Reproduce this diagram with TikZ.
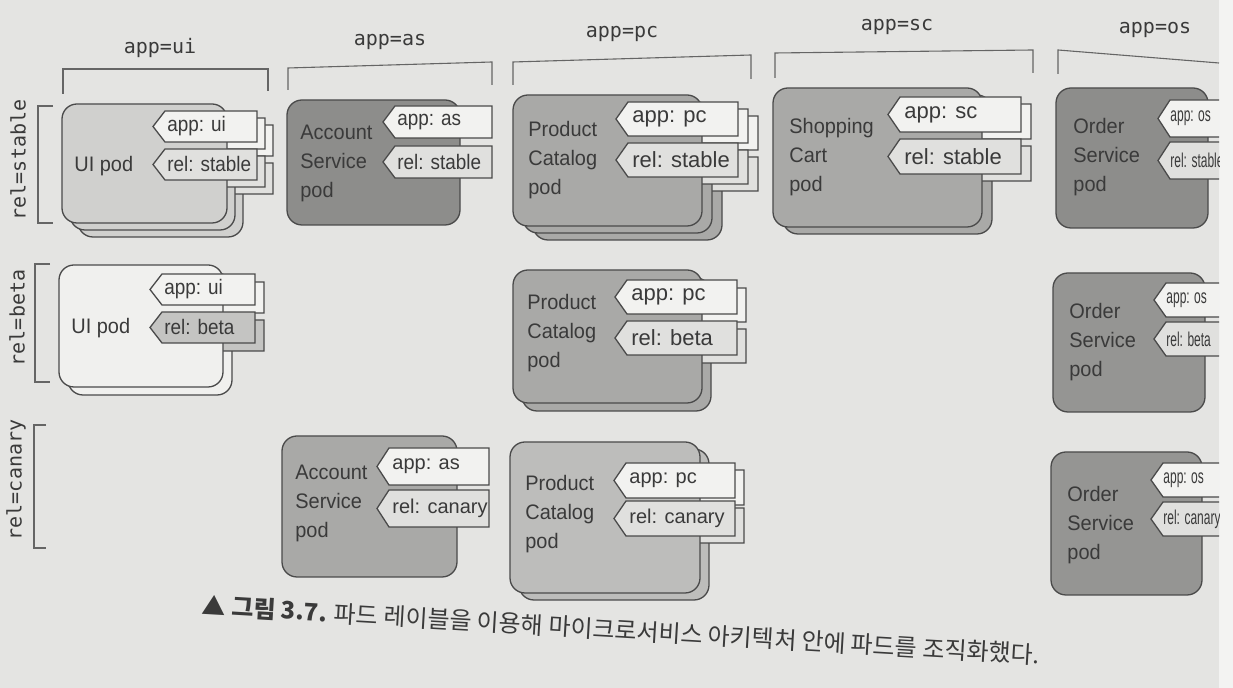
\documentclass[tikz,border=0pt]{standalone}
\usepackage{fontspec}
\setmainfont{Liberation Sans}
\newfontfamily\monof{DejaVu Sans Mono}
\newfontfamily\narrowf[FakeStretch=0.6]{Liberation Sans}
\newfontfamily\podf[FakeStretch=0.95]{Liberation Sans}
\newfontfamily\tagf[FakeStretch=0.9]{Liberation Sans}
\newfontfamily\krf{Noto Sans CJK KR}
\definecolor{paper}{HTML}{E4E4E2}
\definecolor{edgepaper}{HTML}{F3F3F2}
\definecolor{ln}{HTML}{4A4A4A}
\definecolor{txt}{HTML}{3A3A3A}
\definecolor{pwhite}{HTML}{F0F0EE}
\definecolor{plight}{HTML}{D0D0CE}
\definecolor{pmid}{HTML}{A9A9A7}
\definecolor{ppale}{HTML}{BDBDBB}
\definecolor{pdark}{HTML}{8D8D8B}
\definecolor{posg}{HTML}{959593}
\definecolor{tagw}{HTML}{F2F2F0}
\definecolor{tagl}{HTML}{E0E0DE}
\definecolor{tagg}{HTML}{C4C4C2}
\newcommand\ptag[5]{\draw[podline,fill=#5] ({#1},{(#2+#4)/2}) -- ({#1+12},{#2}) -- ({#3},{#2}) -- ({#3},{#4}) -- ({#1+12},{#4}) -- cycle;}
\def\tagh{34}
\def\tagg{7}
\def\relfill{tagl}
% #1 offsets, #2 x1, #3 y1, #4 x2, #5 y2, #6 fill, #7 tag x0, #8 tag x1, #9 tag top
\newcommand\pod[9]{%
  \foreach \dx/\dy in {#1}{%
    \begin{scope}[shift={(\dx,\dy)}]
      \draw[podline,fill=#6,rounded corners=7.5pt] (#2,#3) rectangle (#4,#5);
      \ptag{#7}{#9}{#8}{#9+\tagh}{tagw}
      \ptag{#7}{#9+\tagh+\tagg}{#8}{#9+2*\tagh+\tagg}{\relfill}
    \end{scope}}}
\begin{document}
\begin{tikzpicture}[x=0.5pt,y=-0.5pt,
  podline/.style={draw=ln,line width=0.65pt},
  brk/.style={draw=ln!85,line width=0.55pt},
  hdr/.style={font=\monof\fontsize{10}{12}\selectfont,text=txt,inner sep=0},
  podtext/.style={font=\podf\fontsize{10.5}{14.5}\selectfont,text=txt,align=left,anchor=west,inner sep=0},
  tagtext/.style={font=\tagf\fontsize{10.5}{13}\selectfont,text=txt,anchor=west,inner sep=0},
  tagmid/.style={font=\fontsize{10}{13}\selectfont,text=txt,anchor=west,inner sep=0},
  tagbig/.style={font=\fontsize{11}{13}\selectfont,text=txt,anchor=west,inner sep=0},
  ostext/.style={font=\narrowf\fontsize{10}{12}\selectfont,text=txt,anchor=west,inner sep=0}]
\useasboundingbox (0,0) rectangle (1233,688);
\fill[paper] (0,0) rectangle (1233,688);
\fill[edgepaper] (1219,0) rectangle (1233,688);

% column headers
\node[hdr] (hui) at (160,48) {app=ui};
\node[hdr] (has) at (390,42) {app=as};
\node[hdr] (hpc) at (622,34) {app=pc};
\node[hdr] (hsc) at (897,27) {app=sc};
\node[hdr] (hos) at (1155,30) {app=os};

% top brackets
\draw[brk] (63,94) -- (63,69) -- (268,69) -- (268,91);
\draw[brk] (288,90) -- (288,68) -- (492,62) -- (492,85);
\draw[brk] (513,85) -- (513,62) -- (751,55) -- (751,79);
\draw[brk] (775,78) -- (775,53) -- (1033,50) -- (1033,73);
\draw[brk] (1058,74) -- (1058,50) -- (1219,63);

% row labels and brackets
\node[hdr,rotate=90] (rstable) at (18,160) {rel=stable};
\node[hdr,rotate=90] (rbeta) at (17,318) {rel=beta};
\node[hdr,rotate=90] (rcanary) at (16,480) {rel=canary};
\draw[brk] (53,106) -- (38,106) -- (38,223) -- (53,223);
\draw[brk] (50,264) -- (35,264) -- (35,382) -- (50,382);
\draw[brk] (46,425) -- (34,425) -- (34,548) -- (46,548);

% ---- row stable ----
\def\tagh{31}\def\tagg{7}\def\relfill{tagl}
\pod{16/14,8/7,0/0}{62}{104}{227}{223}{plight}{153}{257}{111}
\node[podtext] (uis) at (74,166) {UI pod};
\node[tagtext] (uisa) at (167,126.5) {app: ui};
\node[tagtext] (uisr) at (167,164.5) {rel: stable};

\def\tagh{32}\def\tagg{8}
\pod{0/0}{287}{100}{460}{225}{pdark}{383}{492}{106}
\node[podtext] (ass) at (300,163) {Account\\Service\\pod};
\node[tagtext] (assa) at (397,122) {app: as};
\node[tagtext] (assr) at (397,162) {rel: stable};

\def\tagh{34}\def\tagg{7}
\pod{20/14,10/7,0/0}{513}{95}{702}{226}{pmid}{616}{738}{102}
\node[podtext] (pcs) at (528,160) {Product\\Catalog\\pod};
\node[tagbig] (pcsa) at (632,119) {app: pc};
\node[tagbig] (pcsr) at (632,160) {rel: stable};

\def\tagh{35}\def\tagg{7}
\pod{10/7,0/0}{773}{88}{982}{227}{pmid}{888}{1021}{97}
\node[podtext] (scs) at (789,157) {Shopping\\Cart\\pod};
\node[tagbig] (scsa) at (904,114.5) {app: sc};
\node[tagbig] (scsr) at (904,156.5) {rel: stable};

\begin{scope}
\clip (0,0) rectangle (1219,688);
\def\tagh{37}\def\tagg{5}
\pod{0/0}{1056}{88}{1208}{228}{pdark}{1158}{1250}{100}
\node[podtext] (oss) at (1073,157) {Order\\Service\\pod};
\node[ostext] (ossa) at (1170,118.5) {app: os};
\node[ostext] (ossr) at (1170,160.5) {rel: stable};

% ---- row beta ----
\def\tagh{34}\def\tagg{5}
\pod{0/0}{1053}{273}{1205}{412}{posg}{1154}{1250}{283}
\node[podtext] (osb) at (1069,342) {Order\\Service\\pod};
\node[ostext] (osba) at (1166,300) {app: os};
\node[ostext] (osbr) at (1166,339) {rel: beta};

% ---- row canary ----
\def\tagh{34}\def\tagg{5}
\pod{0/0}{1051}{452}{1202}{595}{posg}{1151}{1250}{463}
\node[podtext] (osc) at (1067,525) {Order\\Service\\pod};
\node[ostext] (osca) at (1163,480) {app: os};
\node[ostext] (oscr) at (1163,519) {rel: canary};
\end{scope}

\def\tagh{31}\def\tagg{7}\def\relfill{tagg}
\pod{9/8,0/0}{59}{265}{223}{387}{pwhite}{150}{255}{274}
\node[podtext] (uib) at (71,328) {UI pod};
\node[tagtext] (uiba) at (164,289.5) {app: ui};
\node[tagtext] (uibr) at (164,327.5) {rel: beta};

\def\tagh{34}\def\tagg{7}\def\relfill{tagl}
\pod{9/8,0/0}{513}{270}{702}{403}{pmid}{615}{737}{280}
\node[podtext] (pcb) at (527,333) {Product\\Catalog\\pod};
\node[tagbig] (pcba) at (631,297) {app: pc};
\node[tagbig] (pcbr) at (631,338) {rel: beta};

\def\tagh{37}\def\tagg{5}\def\relfill{tagl}
\pod{0/0}{282}{436}{457}{577}{pmid}{377}{489}{448}
\node[podtext] (asc) at (295,503) {Account\\Service\\pod};
\node[tagmid] (asca) at (392,466.5) {app: as};
\node[tagmid] (ascr) at (392,508.5) {rel: canary};

\def\tagh{35}\def\tagg{3}\def\relfill{tagl}
\pod{9/7,0/0}{510}{442}{700}{593}{ppale}{614}{735}{463}
\node[podtext] (pcc) at (525,514) {Product\\Catalog\\pod};
\node[tagmid] (pcca) at (629,480.5) {app: pc};
\node[tagmid] (pccr) at (629,518.5) {rel: canary};

% caption
\node[font=\krf\fontsize{12}{14}\selectfont,text=txt,rotate=-3.4,inner sep=0] (cap) at (621,630)
  {\textbf{▲ 그림 3.7.} 파드 레이블을 이용해 마이크로서비스 아키텍처 안에 파드를 조직화했다.};
\end{tikzpicture}
\end{document}
